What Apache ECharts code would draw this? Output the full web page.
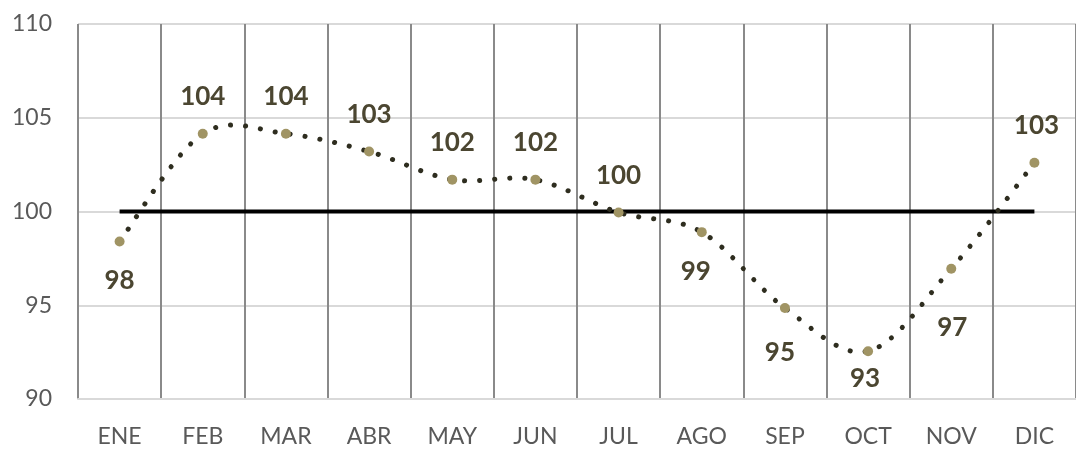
<!DOCTYPE html>
<html>
<head>
<meta charset="utf-8">
<script src="https://cdn.jsdelivr.net/npm/echarts@6/dist/echarts.min.js"></script>
<style>
    html, body { margin: 0; padding: 0; background: #fff; }
    #chart { width: 1076px; height: 449px; }
</style>
</head>
<body>
<div id="chart"></div>
<script>
const months = ['ENE', 'FEB', 'MAR', 'ABR', 'MAY', 'JUN', 'JUL', 'AGO', 'SEP', 'OCT', 'NOV', 'DIC']
const indice = [98.4, 104.15, 104.15, 103.2, 101.7, 101.7, 99.95, 98.9, 94.85, 92.55, 96.95, 102.6]
const base = [100, 100, 100, 100, 100, 100, 100, 100, 100, 100, 100, 100]
const yTicks = [90, 95, 100, 105, 110]

// labels under the point for these months, the rest go above
const below = ['ENE', 'AGO', 'SEP', 'OCT', 'NOV']
// small hand nudges like in the original sheet
const nudge = {
    AGO: [-6, 0],
    SEP: [-5, 6],
    OCT: [-3, -12],
    NOV: [1, 20],
    DIC: [2, 0]
}

const FONT = 'Lato, "Open Sans", sans-serif'

const myChart = echarts.init(document.getElementById('chart'))

const pointData = indice.map((v, i) => {
    const m = months[i]
    const isBelow = below.indexOf(m) >= 0
    return {
        value: v,
        label: {
            position: isBelow ? 'bottom' : 'top',
            distance: isBelow ? 21 : 19,
            offset: nudge[m] || [0, 0]
        }
    }
})

// excel style smooth curve (catmull-rom), echarts' own smooth clamps the overshoot
function renderCurve(params, api) {
    if (params.dataIndex !== 0) return
    const pts = indice.map((v, i) => api.coord([i, v]))
    const n = pts.length
    let d = 'M' + pts[0][0] + ',' + pts[0][1]
    for (let i = 0; i < n - 1; i++) {
        const p0 = pts[Math.max(i - 1, 0)]
        const p1 = pts[i]
        const p2 = pts[i + 1]
        const p3 = pts[Math.min(i + 2, n - 1)]
        const c1x = p1[0] + (p2[0] - p0[0]) / 6
        const c1y = p1[1] + (p2[1] - p0[1]) / 6
        const c2x = p2[0] - (p3[0] - p1[0]) / 6
        const c2y = p2[1] - (p3[1] - p1[1]) / 6
        d += ' C' + c1x + ',' + c1y + ' ' + c2x + ',' + c2y + ' ' + p2[0] + ',' + p2[1]
    }
    return {
        type: 'path',
        shape: { pathData: d },
        style: {
            fill: 'none',
            stroke: '#2e2d1f',
            lineWidth: 5,
            lineDash: [0.1, 15],
            lineCap: 'round'
        }
    }
}

const option = {
    animation: false,
    backgroundColor: '#fff',
    grid: {
        left: 78,
        top: 24,
        width: 1004,
        height: 375
    },
    xAxis: {
        type: 'category',
        data: months,
        boundaryGap: true,
        axisLine: { show: true, lineStyle: { color: '#d9d9d9', width: 2 } },
        axisTick: { show: false },
        axisLabel: {
            color: '#595959',
            fontFamily: FONT,
            fontSize: 23,
            margin: 26
        },
        splitLine: {
            show: true,
            lineStyle: { color: '#8a8a8a', width: 2 }
        }
    },
    yAxis: {
        type: 'value',
        min: yTicks[0],
        max: yTicks[yTicks.length - 1],
        interval: 5,
        axisLine: { show: false },
        axisTick: { show: false },
        axisLabel: {
            color: '#595959',
            fontFamily: FONT,
            fontSize: 23,
            margin: 26
        },
        splitLine: {
            show: true,
            lineStyle: { color: '#d9d9d9', width: 2 }
        }
    },
    series: [
        {
            name: 'base',
            type: 'line',
            data: base,
            symbol: 'none',
            z: 3,
            lineStyle: { color: '#000', width: 4 }
        },
        {
            name: 'curva',
            type: 'custom',
            data: indice,
            renderItem: renderCurve,
            z: 4,
            silent: true
        },
        {
            name: 'indice',
            type: 'line',
            data: pointData,
            symbol: 'circle',
            symbolSize: 10,
            z: 5,
            itemStyle: { color: '#a09464' },
            lineStyle: { opacity: 0 },
            label: {
                show: true,
                color: '#4b4631',
                fontFamily: FONT,
                fontWeight: 'bold',
                fontSize: 26,
                formatter: (p) => Math.round(p.value)
            }
        }
    ]
}

option && myChart.setOption(option)
</script>
</body>
</html>
